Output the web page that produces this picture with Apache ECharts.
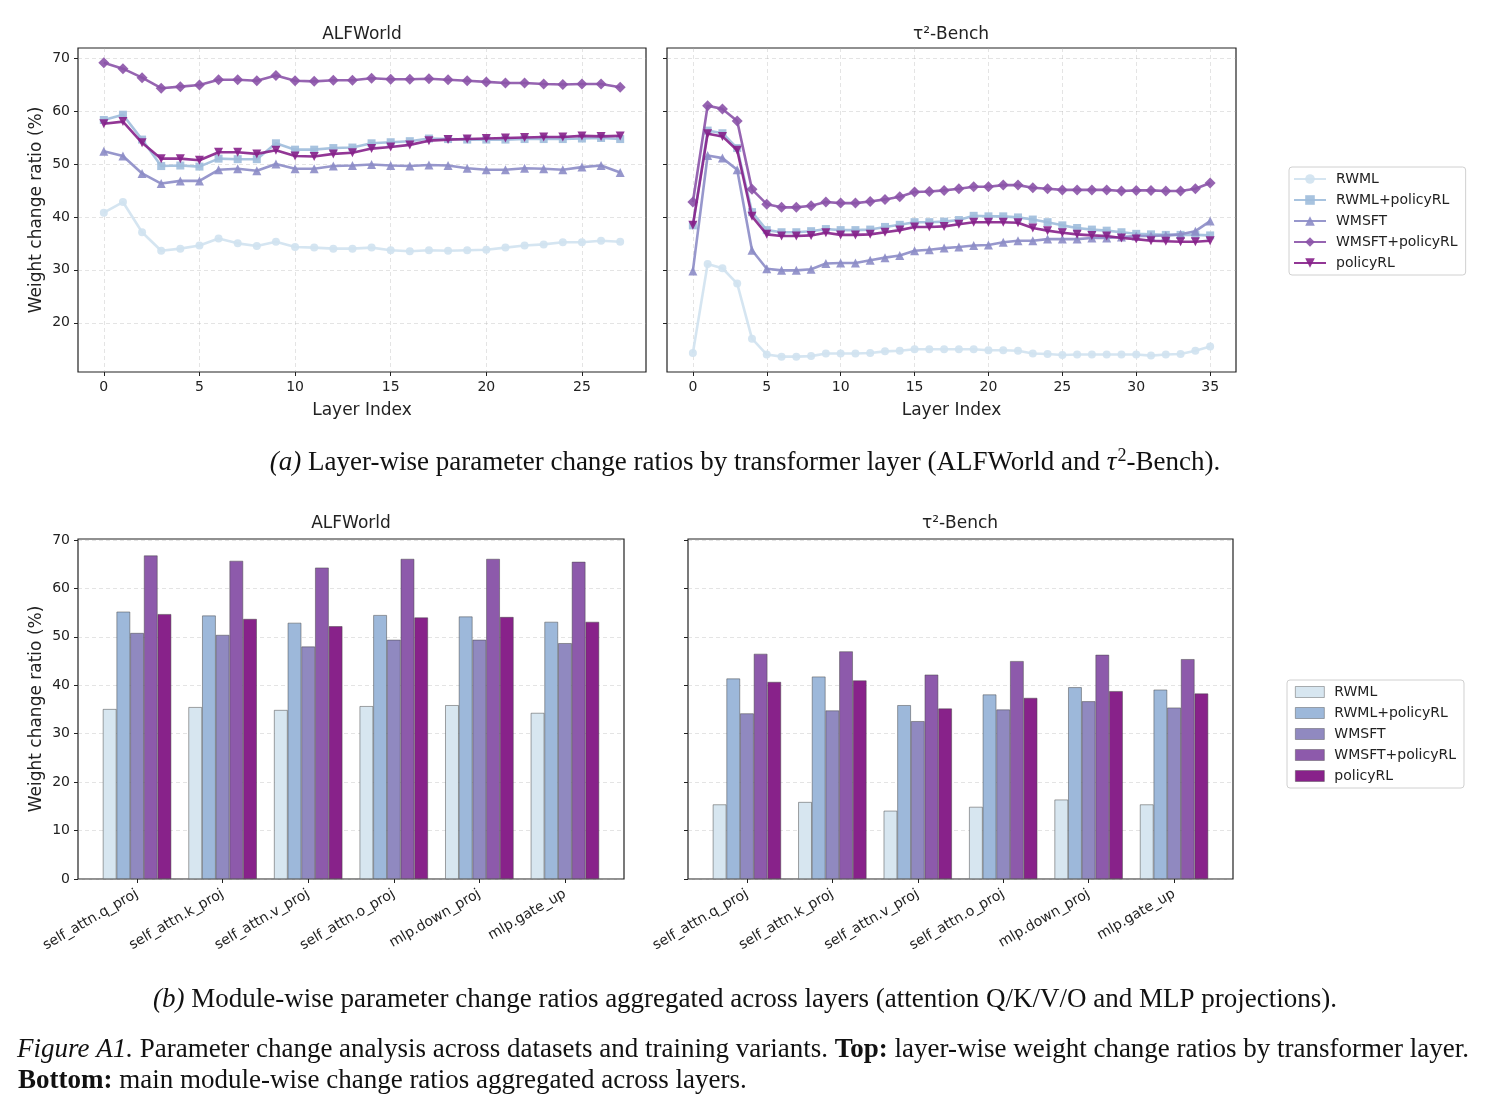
<!DOCTYPE html>
<html>
<head>
<meta charset="utf-8">
<script src="https://cdn.jsdelivr.net/npm/echarts@6/dist/echarts.min.js"></script>
<style>
  html, body { margin: 0; padding: 0; background: #fff; }
  #main { width: 1496px; height: 1109px; }
</style>
</head>
<body>
<div id="main"></div>
<script>
// series names / colours
const variants = ['RWML', 'RWML+policyRL', 'WMSFT', 'WMSFT+policyRL', 'policyRL'];
const lineColors = ['#d0e2ef', '#9ebcdb', '#8c8cc6', '#8b53a9', '#86208a'];
const barColors = ['#d7e6f0', '#9db8da', '#9089c0', '#8d5aab', '#88228a'];
const markers = ['circle', 'rect', 'triangle', 'diamond', 'path://M0,0 L10,0 L5,9 Z'];
const markerSizes = [8, 8, 9, 11, 9];

// layer-wise change ratio (%), ALFWorld (layers 0..27)
const alfRWML = [40.8, 42.8, 37.1, 33.6, 34.0, 34.6, 35.9, 35.0, 34.5, 35.3, 34.3, 34.2, 34.0, 34.0, 34.2, 33.7, 33.5, 33.7, 33.6, 33.7, 33.8, 34.2, 34.6, 34.8, 35.2, 35.2, 35.5, 35.3];
const alfRWMLpRL = [58.3, 59.3, 54.6, 49.6, 49.7, 49.5, 51.0, 50.9, 50.9, 53.9, 52.7, 52.7, 53.0, 53.1, 53.9, 54.1, 54.3, 54.8, 54.7, 54.6, 54.6, 54.6, 54.7, 54.7, 54.7, 54.8, 54.9, 54.7];
const alfWMSFT = [52.4, 51.5, 48.2, 46.3, 46.8, 46.8, 48.9, 49.1, 48.7, 50.0, 49.1, 49.1, 49.6, 49.7, 49.9, 49.7, 49.6, 49.8, 49.7, 49.2, 48.9, 48.9, 49.2, 49.1, 48.9, 49.4, 49.7, 48.4];
const alfWMSFTpRL = [69.1, 68.0, 66.3, 64.3, 64.6, 64.9, 65.9, 65.9, 65.7, 66.7, 65.7, 65.6, 65.8, 65.8, 66.2, 66.0, 66.0, 66.1, 65.9, 65.7, 65.5, 65.3, 65.3, 65.1, 65.0, 65.1, 65.1, 64.5];
const alfPolicyRL = [57.6, 58.0, 54.0, 51.0, 51.0, 50.7, 52.2, 52.2, 51.9, 52.6, 51.5, 51.4, 51.9, 52.1, 52.9, 53.2, 53.6, 54.4, 54.6, 54.7, 54.8, 54.9, 55.0, 55.1, 55.1, 55.3, 55.2, 55.3];

// layer-wise change ratio (%), tau2-Bench (layers 0..35)
const tauRWML = [14.3, 31.1, 30.3, 27.4, 17.0, 14.0, 13.6, 13.6, 13.7, 14.2, 14.2, 14.2, 14.3, 14.6, 14.7, 15.0, 15.0, 15.0, 15.0, 15.0, 14.8, 14.8, 14.7, 14.2, 14.1, 13.9, 14.0, 14.0, 14.0, 14.0, 14.0, 13.8, 14.0, 14.1, 14.7, 15.5];
const tauRWMLpRL = [38.4, 56.3, 55.8, 53.0, 40.9, 37.5, 37.1, 37.1, 37.3, 37.7, 37.5, 37.5, 37.6, 38.1, 38.5, 39.0, 39.0, 39.1, 39.4, 40.2, 40.1, 40.1, 39.9, 39.5, 39.0, 38.4, 37.9, 37.6, 37.4, 37.1, 36.8, 36.7, 36.6, 36.6, 36.6, 36.5];
const tauWMSFT = [29.8, 51.6, 51.1, 48.9, 33.7, 30.2, 29.9, 29.9, 30.1, 31.2, 31.3, 31.3, 31.8, 32.3, 32.7, 33.6, 33.8, 34.1, 34.3, 34.6, 34.7, 35.2, 35.5, 35.5, 35.8, 35.8, 35.8, 36.0, 36.0, 36.2, 36.4, 36.4, 36.5, 36.7, 37.3, 39.2];
const tauWMSFTpRL = [42.8, 61.0, 60.4, 58.1, 45.2, 42.4, 41.8, 41.8, 42.1, 42.8, 42.6, 42.6, 42.9, 43.3, 43.8, 44.7, 44.8, 45.0, 45.3, 45.7, 45.7, 46.0, 46.0, 45.5, 45.3, 45.1, 45.1, 45.1, 45.1, 44.9, 45.0, 45.0, 44.9, 44.9, 45.3, 46.4];
const tauPolicyRL = [38.4, 55.7, 55.2, 52.6, 40.1, 36.7, 36.4, 36.4, 36.5, 37.0, 36.6, 36.6, 36.7, 37.1, 37.5, 38.1, 38.1, 38.2, 38.6, 39.0, 39.0, 39.0, 38.9, 37.9, 37.4, 37.0, 36.7, 36.5, 36.4, 36.0, 35.8, 35.5, 35.4, 35.3, 35.3, 35.5];

// module-wise change ratio (%)
const modules = ['self_attn.q_proj', 'self_attn.k_proj', 'self_attn.v_proj', 'self_attn.o_proj', 'mlp.down_proj', 'mlp.gate_up'];
const alfModRWML = [35.1, 35.5, 34.9, 35.7, 35.9, 34.3];
const alfModRWMLpRL = [55.2, 54.4, 52.9, 54.5, 54.2, 53.1];
const alfModWMSFT = [50.8, 50.4, 48.0, 49.4, 49.4, 48.7];
const alfModWMSFTpRL = [66.8, 65.7, 64.3, 66.1, 66.1, 65.5];
const alfModPolicyRL = [54.7, 53.7, 52.2, 54.0, 54.1, 53.1];
const tauModRWML = [15.4, 15.9, 14.1, 14.9, 16.4, 15.4];
const tauModRWMLpRL = [41.4, 41.8, 35.9, 38.1, 39.6, 39.1];
const tauModWMSFT = [34.2, 34.8, 32.6, 35.0, 36.7, 35.4];
const tauModWMSFTpRL = [46.5, 47.0, 42.2, 45.0, 46.3, 45.4];
const tauModPolicyRL = [40.7, 41.0, 35.2, 37.4, 38.8, 38.3];

// tick labels
const alfLayerTicks = [0, 5, 10, 15, 20, 25];
const tauLayerTicks = [0, 5, 10, 15, 20, 25, 30, 35];
const lineYTicks = [20, 30, 40, 50, 60, 70];
const barYTicks = [0, 10, 20, 30, 40, 50, 60, 70];
const moduleTicks = [0, 1, 2, 3, 4, 5];

const alfLines = [alfRWML, alfRWMLpRL, alfWMSFT, alfWMSFTpRL, alfPolicyRL];
const tauLines = [tauRWML, tauRWMLpRL, tauWMSFT, tauWMSFTpRL, tauPolicyRL];
const alfBars = [alfModRWML, alfModRWMLpRL, alfModWMSFT, alfModWMSFTpRL, alfModPolicyRL];
const tauBars = [tauModRWML, tauModRWMLpRL, tauModWMSFT, tauModWMSFTpRL, tauModPolicyRL];

const SANS = 'DejaVu Sans';
const SERIF = 'Liberation Serif';
const INK = '#222';
const CAP = 27;

const chart = echarts.init(document.getElementById('main'), null, { renderer: 'canvas' });

const gridLine = { show: true, lineStyle: { color: 'rgba(170,170,170,0.4)', type: [4, 3], width: 0.8 } };

function valueAxis(gridIndex, min, max, step, ticks, opts) {
  return Object.assign({
    type: 'value', gridIndex: gridIndex, min: min, max: max,
    minInterval: step, maxInterval: step, splitNumber: 6,
    axisLine: { show: false, onZero: false },
    axisTick: { show: true, inside: false, length: 4, customValues: ticks, lineStyle: { color: INK, width: 1 } },
    axisLabel: { show: true, customValues: ticks, color: INK, fontFamily: SANS, fontSize: 14, margin: 8 },
    splitLine: gridLine
  }, opts || {});
}

const yName = {
  name: 'Weight change ratio (%)', nameLocation: 'middle', nameGap: 33,
  nameTextStyle: { fontFamily: SANS, fontSize: 17, color: INK }
};
const xName = {
  name: 'Layer Index', nameLocation: 'middle', nameGap: 30,
  nameTextStyle: { fontFamily: SANS, fontSize: 17, color: INK }
};
const moduleLabels = {
  axisLabel: {
    show: true, customValues: moduleTicks, rotate: 30, margin: 14,
    color: INK, fontFamily: SANS, fontSize: 14,
    formatter: v => modules[Math.round(v)]
  },
  splitLine: { show: false }
};

const series = [];
[alfLines, tauLines].forEach((group, gi) => {
  group.forEach((vals, k) => {
    series.push({
      name: variants[k], type: 'line', xAxisIndex: gi, yAxisIndex: gi,
      data: vals.map((v, i) => [i, v]),
      symbol: markers[k], symbolSize: markerSizes[k], showSymbol: true,
      lineStyle: { color: lineColors[k], width: 2.6, opacity: 0.9 },
      itemStyle: { color: lineColors[k], opacity: 0.9 },
      emphasis: { disabled: true }, animation: false, z: 2 + k
    });
  });
});
[alfBars, tauBars].forEach((group, gi) => {
  group.forEach((vals, k) => {
    series.push({
      name: variants[k], type: 'bar', xAxisIndex: gi + 2, yAxisIndex: gi + 2,
      data: vals.map((v, i) => [i, v]),
      barGap: '0%', barCategoryGap: '20%',
      itemStyle: { color: barColors[k], borderColor: 'rgba(70,70,70,0.7)', borderWidth: 0.7 },
      emphasis: { disabled: true }, animation: false
    });
  });
});

const legendText = { fontFamily: SANS, fontSize: 14, color: INK, lineHeight: 16, padding: [0, 0, 0, 5] };
const panelTitle = { fontFamily: SANS, fontSize: 17, fontWeight: 'normal', color: INK };
const capRich = {
  n: { fontFamily: SERIF, fontSize: CAP, color: '#111', lineHeight: 32 },
  i: { fontFamily: SERIF, fontSize: CAP, fontStyle: 'italic', color: '#111', lineHeight: 32 },
  b: { fontFamily: SERIF, fontSize: CAP, fontWeight: 'bold', color: '#111', lineHeight: 32 },
  s: { fontFamily: SERIF, fontSize: 18, color: '#111', lineHeight: 32, verticalAlign: 'top', padding: [0, 0, 0, 1] }
};
const capStyle = { fontFamily: SERIF, fontSize: CAP, fontWeight: 'normal', color: '#111', rich: capRich };

const option = {
  backgroundColor: '#fff',
  animation: false,
  title: [
    { text: 'ALFWorld', left: 362, top: 26, padding: 0, textAlign: 'center', textStyle: panelTitle },
    { text: 'τ²-Bench', left: 951, top: 26, padding: 0, textAlign: 'center', textStyle: panelTitle },
    { text: 'ALFWorld', left: 351, top: 515, padding: 0, textAlign: 'center', textStyle: panelTitle },
    { text: 'τ²-Bench', left: 960, top: 515, padding: 0, textAlign: 'center', textStyle: panelTitle },
    {
      text: '{i|(a)}{n| Layer-wise parameter change ratios by transformer layer (ALFWorld and }{i|τ}{s|2}{n|-Bench).}',
      left: 745, top: 447, padding: 0, textAlign: 'center', textStyle: capStyle
    },
    {
      text: '{i|(b)}{n| Module-wise parameter change ratios aggregated across layers (attention Q/K/V/O and MLP projections).}',
      left: 745, top: 984, padding: 0, textAlign: 'center', textStyle: capStyle
    },
    {
      text: '{i|Figure A1.}{n| Parameter change analysis across datasets and training variants. }{b|Top:}{n| layer-wise weight change ratios by transformer layer.}',
      left: 17, top: 1034, padding: 0, textStyle: capStyle
    },
    {
      text: '{b|Bottom:}{n| main module-wise change ratios aggregated across layers.}',
      left: 18, top: 1065, padding: 0, textStyle: capStyle
    }
  ],
  legend: [
    {
      orient: 'vertical', left: 1289, top: 167, padding: [4, 8, 4, 4],
      itemWidth: 32, itemHeight: 12, itemGap: 5,
      borderColor: '#d0d0d0', borderWidth: 1, borderRadius: 3,
      backgroundColor: '#fff', selectedMode: false,
      textStyle: legendText,
      data: variants.slice()
    },
    {
      orient: 'vertical', left: 1287, top: 680, padding: [4, 8, 4, 8],
      itemWidth: 29, itemHeight: 11, itemGap: 5,
      borderColor: '#d0d0d0', borderWidth: 1, borderRadius: 3,
      backgroundColor: '#fff', selectedMode: false,
      textStyle: legendText,
      data: variants.map((n, k) => ({
        name: n, icon: 'rect',
        itemStyle: { color: barColors[k], borderColor: 'rgba(70,70,70,0.6)', borderWidth: 0.7, opacity: 1 }
      }))
    }
  ],
  grid: [
    { left: 78, top: 48, width: 568, height: 324, show: true, borderColor: INK, borderWidth: 1.2, outerBoundsMode: 'none' },
    { left: 667, top: 48, width: 569, height: 324, show: true, borderColor: INK, borderWidth: 1.2, outerBoundsMode: 'none' },
    { left: 78, top: 539, width: 546, height: 340, show: true, borderColor: INK, borderWidth: 1.2, outerBoundsMode: 'none' },
    { left: 688, top: 539, width: 545, height: 340, show: true, borderColor: INK, borderWidth: 1.2, outerBoundsMode: 'none' }
  ],
  xAxis: [
    valueAxis(0, -1.35, 28.35, 5, alfLayerTicks, xName),
    valueAxis(1, -1.75, 36.75, 5, tauLayerTicks, xName),
    valueAxis(2, -0.69, 5.69, 1, moduleTicks, moduleLabels),
    valueAxis(3, -0.69, 5.69, 1, moduleTicks, moduleLabels)
  ],
  yAxis: [
    valueAxis(0, 10.7, 71.9, 10, lineYTicks, yName),
    valueAxis(1, 10.7, 71.9, 10, lineYTicks, { axisLabel: { show: false } }),
    valueAxis(2, 0, 70.2, 10, barYTicks, yName),
    valueAxis(3, 0, 70.2, 10, barYTicks, { axisLabel: { show: false } })
  ],
  series: series
};

chart.setOption(option);
</script>
</body>
</html>
